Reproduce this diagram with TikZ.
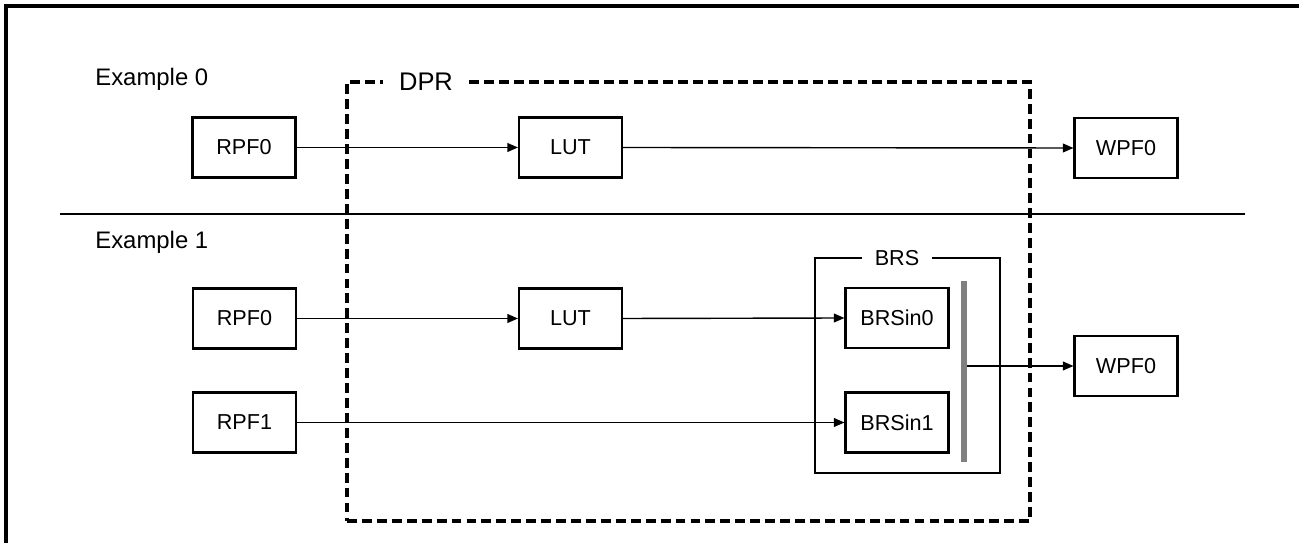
\documentclass[tikz,border=0pt]{standalone}
\usepackage{fontspec}
\setmainfont{Liberation Sans}
\usetikzlibrary{arrows.meta}
\begin{document}
\begin{tikzpicture}[x=0.02cm,y=-0.02cm,
  blk/.style={draw,line width=1.2pt,minimum width=2.06cm,minimum height=1.2cm,inner sep=0pt,font=\fontsize{12.3}{14}\selectfont},
  conn/.style={line width=0.8pt,-{Triangle[length=6pt,width=5pt]}},
  plain/.style={line width=0.8pt},
  dprbox/.style={draw,line width=1.8pt,dash pattern=on 5.6pt off 2.9pt,minimum width=13.66cm,minimum height=8.78cm,inner sep=0pt},
  brsbox/.style={draw,line width=1.2pt,minimum width=3.7cm,minimum height=4.3cm,inner sep=0pt},
  title/.style={font=\fontsize{13.6}{16}\selectfont,anchor=west,inner sep=0pt}]
\useasboundingbox (0,0) rectangle (1299,543);
% outer frame (left and top edges)
\draw[line width=1.8pt] (6,543) -- (6,6) -- (1299,6);
% DPR dashed box
\node[dprbox] (dpr) at (688.5,301.5) {};
\node[fill=white,inner xsep=9pt,inner ysep=3pt,font=\fontsize{14.5}{17}\selectfont] (dprl) at (426,82) {DPR};
% separator
\coordinate (sepL) at (60,214);
\coordinate (sepR) at (1245,214);
\draw[plain] (sepL) -- (sepR);
% titles
\node[title] (ex0) at (95,79) {Example 0};
\node[title] (ex1) at (95,242) {Example 1};
% Example 0
\node[blk] (rpfa) at (244,147.5) {RPF0};
\node[blk] (luta) at (570.5,147.5) {LUT};
\node[blk] (wpfa) at (1126,148) {WPF0};
\draw[conn] (rpfa.east) -- (luta.west);
\draw[conn] (luta.east) -- (wpfa.west);
% Example 1
\node[brsbox] (brs) at (907.5,365.5) {};
\node[fill=white,inner xsep=7.5pt,inner ysep=3pt,font=\fontsize{12.3}{14}\selectfont] (brsl) at (897,258) {BRS};
\node[blk] (rpfb) at (244.5,318.5) {RPF0};
\node[blk] (rpfc) at (244.5,422.5) {RPF1};
\node[blk] (lutb) at (570.5,318.5) {LUT};
\node[blk] (brs0) at (897,318) {BRSin0};
\node[blk] (brs1) at (897,422.5) {BRSin1};
\node[draw=none,fill=black!50,minimum width=0.12cm,minimum height=3.62cm,inner sep=0pt] (bar) at (964,371.5) {};
\node[blk] (wpfb) at (1126,366) {WPF0};
\draw[conn] (rpfb.east) -- (lutb.west);
\draw[conn] (lutb.east) -- (brs0.west);
\draw[conn] (rpfc.east) -- (brs1.west);
\draw[conn] (wpfb.west -| bar.east) -- (wpfb.west);
\end{tikzpicture}
\end{document}
